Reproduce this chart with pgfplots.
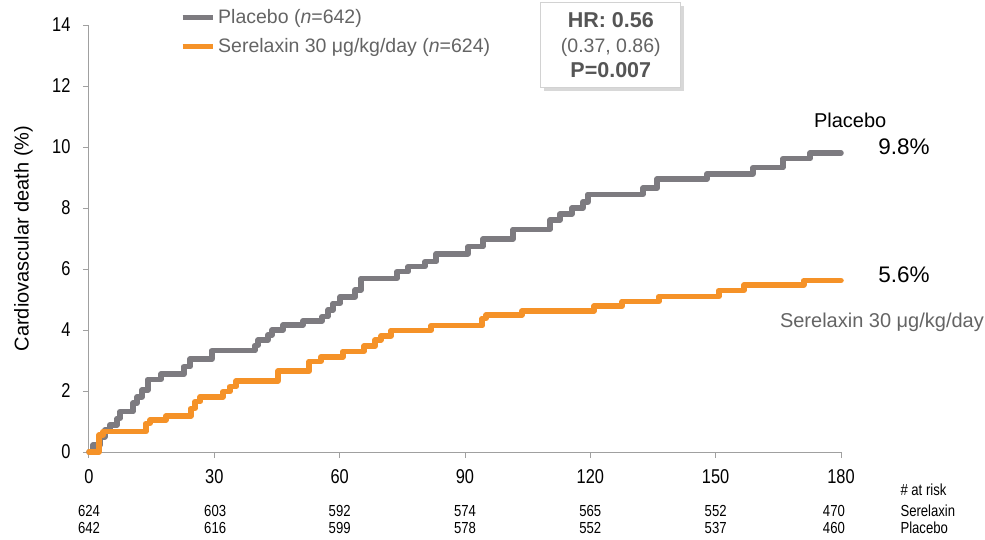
\documentclass[border=0pt]{standalone}
\usepackage{pgfplots}
\pgfplotsset{compat=1.18}
\usepackage{fontspec}
\setmainfont{Liberation Sans}
\newfontfamily\condensed[FakeStretch=0.82]{Liberation Sans}
\usetikzlibrary{shadows}
\definecolor{plgray}{RGB}{125,123,128}
\definecolor{serorange}{RGB}{245,146,40}
\definecolor{axgray}{RGB}{160,160,160}
\definecolor{txtgray}{RGB}{100,100,100}
\definecolor{hrgray}{RGB}{85,85,85}
\begin{document}
\begin{tikzpicture}
\useasboundingbox (-89pt,-87pt) rectangle (896pt,452pt);
\begin{axis}[
  at={(0pt,0pt)}, anchor=south west,
  scale only axis, width=752pt, height=427pt,
  xmin=0, xmax=180, ymin=0, ymax=14,
  xtick={0,30,...,180}, ytick={0,2,...,14},
  axis x line*=bottom, axis y line*=left,
  every outer x axis line/.append style={-},
  every outer y axis line/.append style={-},
  axis line style={draw=axgray, line width=1pt, -},
  tick align=outside, major tick length=6pt,
  tick style={draw=axgray, line width=1pt},
  /pgf/number format/assume math mode=true,
  xticklabel style={font=\condensed\fontsize{20}{24}\selectfont, yshift=-8pt},
  yticklabel style={font=\condensed\fontsize{20}{24}\selectfont, xshift=-9pt},
  ylabel={Cardiovascular death (\%)},
  every axis y label/.style={at={(axis description cs:-0.087,0.5)}, rotate=90, anchor=center, font=\fontsize{20}{24}\selectfont},
  clip=false,
  legend cell align=left,
  legend image code/.code={\draw[#1, line width=5pt, line cap=butt] (0pt,0pt) -- (30pt,0pt);},
  legend style={at={(0.121,1.043)}, anchor=north west, draw=none, fill=none,
    font=\fontsize{19.5}{22}\selectfont, text=txtgray, row sep=7pt, inner sep=0pt,
    nodes={inner sep=3pt}},
]
\addplot[const plot, color=plgray, line width=5.5pt, line cap=round, line join=round, mark=none] coordinates {
(0,0) (1.0,0.23) (2.6,0.5) (3.8,0.72) (5.0,0.89) (6.7,1.1) (7.4,1.32) (10.5,1.6) (11.5,1.81) (12.7,2.03) (14.1,2.38) (17.2,2.55) (22.7,2.8) (24.2,3.05) (29.4,3.32) (39.7,3.5) (40.5,3.67) (42.8,3.84) (43.8,4.0) (46.4,4.16) (51.2,4.3) (55.8,4.44) (57.2,4.66) (58.4,4.87) (60.1,5.09) (63.7,5.31) (65.1,5.69) (73.7,5.91) (76.4,6.08) (80.4,6.24) (83.1,6.5) (90.7,6.73) (94.3,6.98) (101.5,7.3) (110.3,7.6) (112.7,7.8) (115.6,8.0) (118.2,8.2) (119.4,8.45) (132.6,8.65) (136.0,8.95) (147.9,9.12) (158.9,9.32) (166.1,9.62) (172.6,9.8) (180,9.8)
};
\addlegendentry{Placebo (\textit{n}=642)}
\addplot[const plot, color=serorange, line width=5.5pt, line cap=round, line join=round, mark=none] coordinates {
(0,0) (2.4,0.56) (3.4,0.67) (13.6,0.94) (14.6,1.05) (18.4,1.18) (24.4,1.43) (25.4,1.65) (26.6,1.81) (32.1,1.98) (33.7,2.14) (35.2,2.33) (45.2,2.65) (52.7,2.97) (55.5,3.12) (60.8,3.3) (65.8,3.47) (68.5,3.67) (69.9,3.81) (72.3,3.99) (81.9,4.14) (94.1,4.38) (95.0,4.49) (103.6,4.62) (120.9,4.78) (127.6,4.94) (136.4,5.1) (150.8,5.3) (156.8,5.48) (171.1,5.62) (180,5.62)
};
\addlegendentry{Serelaxin 30 μg/kg/day (\textit{n}=624)}

% HR box
\node[draw=gray!35, fill=white, line width=0.8pt,
      drop shadow={shadow xshift=3pt, shadow yshift=-3pt, fill=gray!60},
      minimum width=140pt, minimum height=85pt, align=center, text=hrgray,
      font=\fontsize{21.5}{25}\selectfont, inner sep=2pt]
  at (axis cs:124.9,13.34) {\bfseries HR: 0.56\\{\fontsize{19.5}{25}\selectfont\mdseries\color{txtgray}(0.37, 0.86)}\\\bfseries P=0.007};

% right-side labels
\node[font=\fontsize{20}{24}\selectfont, text=black] at (axis cs:182.2,10.89) {Placebo};
\node[font=\fontsize{22.5}{26}\selectfont, text=black] at (axis cs:195.1,10.0) {9.8\%};
\node[font=\fontsize{22.5}{26}\selectfont, text=black] at (axis cs:195.1,5.80) {5.6\%};
\node[font=\fontsize{20}{24}\selectfont, text=txtgray] at (axis cs:189.8,4.26) {Serelaxin 30 μg/kg/day};

% risk table
\node[anchor=west, font=\condensed\fontsize{16}{19}\selectfont] at (axis cs:193.4,-1.246) {\# at risk};
\node[anchor=west, font=\condensed\fontsize{16}{19}\selectfont] at (axis cs:193.4,-1.934) {Serelaxin};
\node[anchor=west, font=\condensed\fontsize{16}{19}\selectfont] at (axis cs:193.4,-2.49) {Placebo};
\node[font=\condensed\fontsize{16}{19}\selectfont] at (axis cs:0,-1.934) {624};
\node[font=\condensed\fontsize{16}{19}\selectfont] at (axis cs:0,-2.49) {642};
\node[font=\condensed\fontsize{16}{19}\selectfont] at (axis cs:30.2,-1.934) {603};
\node[font=\condensed\fontsize{16}{19}\selectfont] at (axis cs:30.2,-2.49) {616};
\node[font=\condensed\fontsize{16}{19}\selectfont] at (axis cs:60,-1.934) {592};
\node[font=\condensed\fontsize{16}{19}\selectfont] at (axis cs:60,-2.49) {599};
\node[font=\condensed\fontsize{16}{19}\selectfont] at (axis cs:90,-1.934) {574};
\node[font=\condensed\fontsize{16}{19}\selectfont] at (axis cs:90,-2.49) {578};
\node[font=\condensed\fontsize{16}{19}\selectfont] at (axis cs:120,-1.934) {565};
\node[font=\condensed\fontsize{16}{19}\selectfont] at (axis cs:120,-2.49) {552};
\node[font=\condensed\fontsize{16}{19}\selectfont] at (axis cs:150,-1.934) {552};
\node[font=\condensed\fontsize{16}{19}\selectfont] at (axis cs:150,-2.49) {537};
\node[font=\condensed\fontsize{16}{19}\selectfont] at (axis cs:178.3,-1.934) {470};
\node[font=\condensed\fontsize{16}{19}\selectfont] at (axis cs:178.3,-2.49) {460};
\end{axis}
\end{tikzpicture}
\end{document}
